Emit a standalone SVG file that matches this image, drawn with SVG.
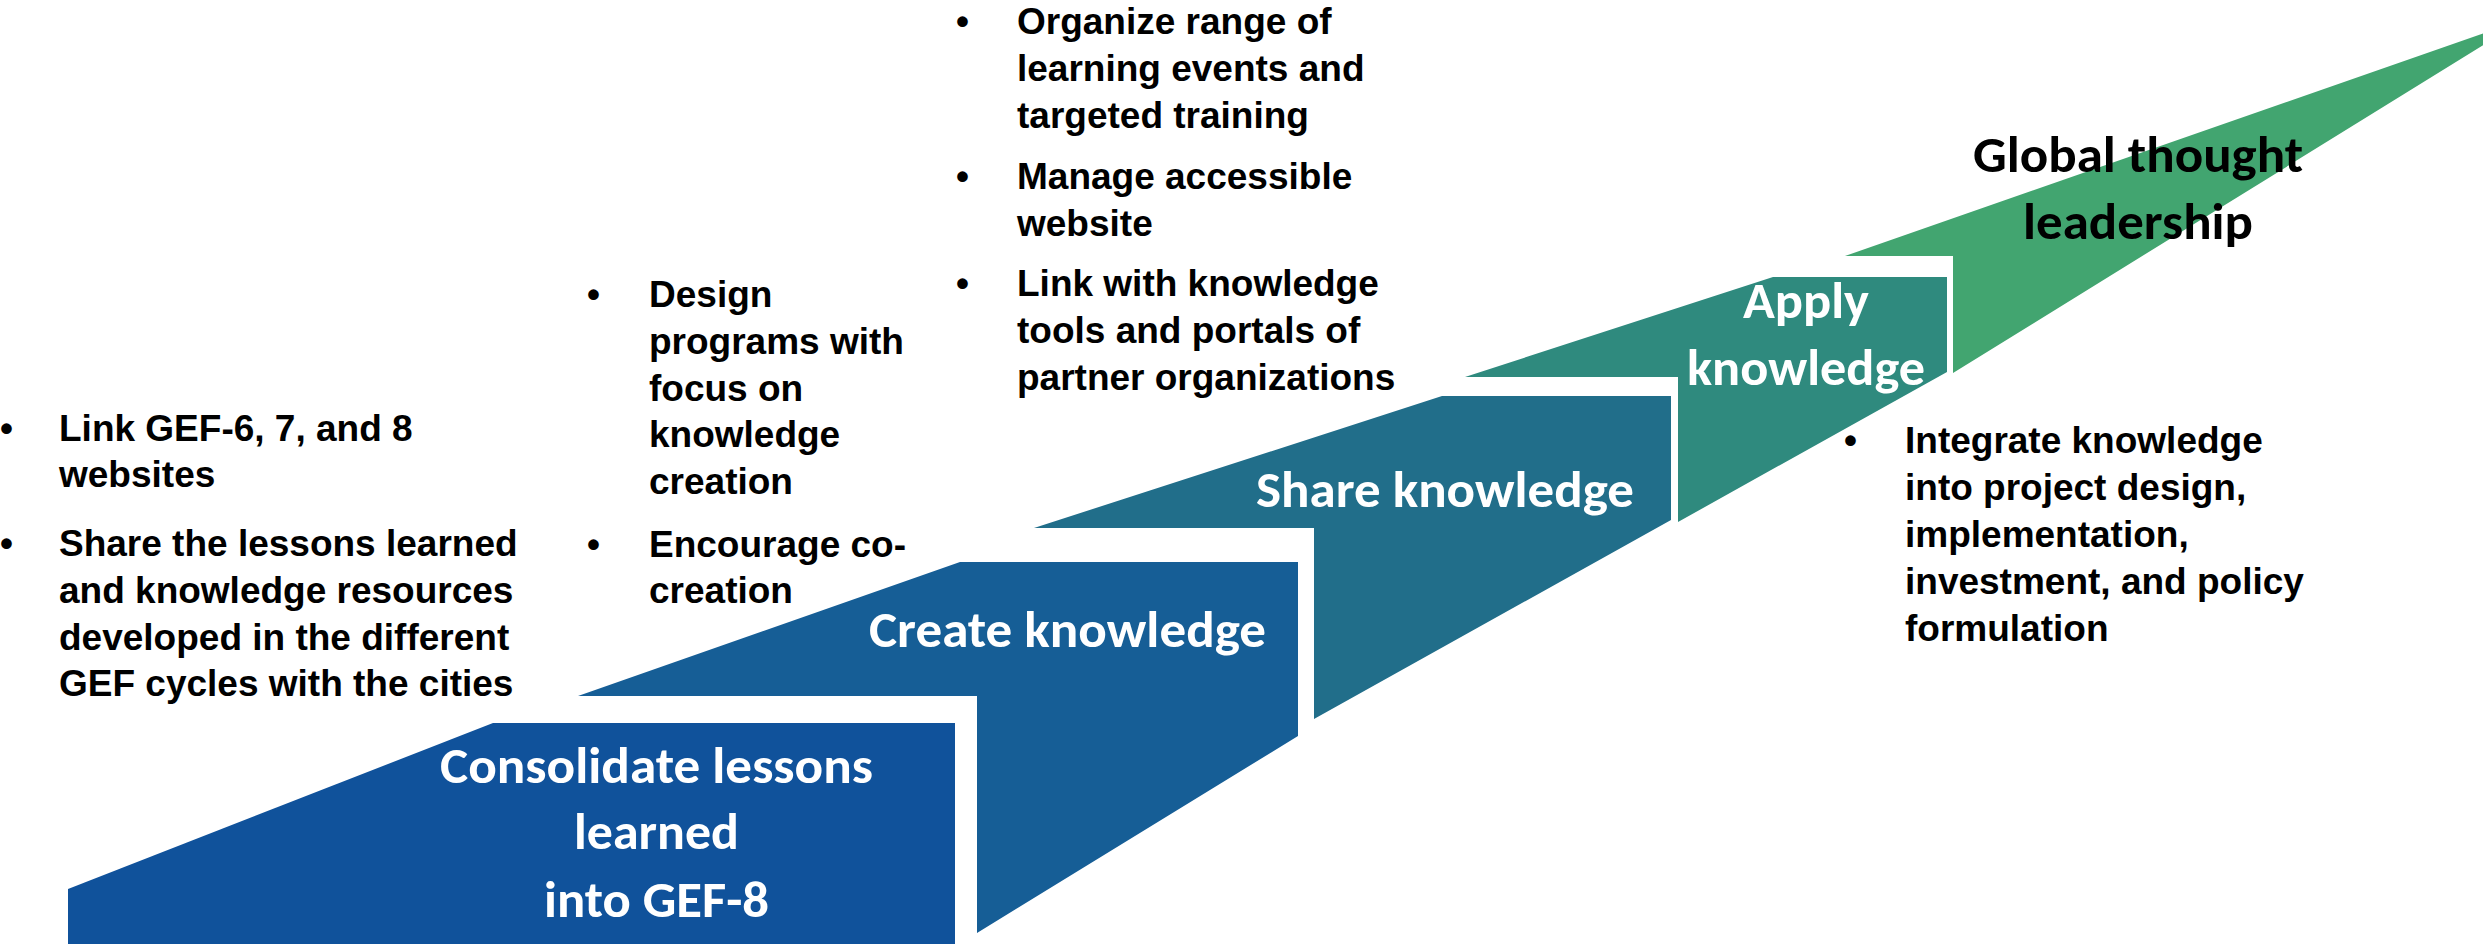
<svg xmlns="http://www.w3.org/2000/svg" width="2483" height="944" viewBox="0 0 2483 944">
<style>
.lbl{font-family:Carlito,Calibri,Lato,"Open Sans",sans-serif;font-weight:bold;font-size:50px;fill:#ffffff}
.dark{fill:#000000}
.bt{font-family:"Liberation Sans",Arial,sans-serif;font-weight:bold;font-size:37px;fill:#000000}
</style>
<rect width="2483" height="944" fill="#ffffff"/>
<g id="step-consolidate">
<polygon points="68,944 68,889 493,723 955,723 955,944" fill="#10529B"/>
<text class="lbl" x="440" y="783" textLength="433" lengthAdjust="spacingAndGlyphs">Consolidate lessons</text>
<text class="lbl" x="574" y="849" textLength="165" lengthAdjust="spacingAndGlyphs">learned</text>
<text class="lbl" x="544" y="917" textLength="225" lengthAdjust="spacingAndGlyphs">into GEF-8</text>
</g>
<g id="step-create">
<polygon points="578,696 960,562 1298,562 1298,736 977,933 977,696" fill="#165E96"/>
<text class="lbl" x="869" y="647" textLength="397" lengthAdjust="spacingAndGlyphs">Create knowledge</text>
</g>
<g id="step-share">
<polygon points="1034,528 1442,396 1671,396 1671,520 1314,719 1314,528" fill="#216E8A"/>
<text class="lbl" x="1256" y="507" textLength="378" lengthAdjust="spacingAndGlyphs">Share knowledge</text>
</g>
<g id="step-apply">
<polygon points="1465,377 1773,277 1947,277 1947,372 1678,522 1678,377" fill="#2F8A7E"/>
<text class="lbl" x="1743" y="318" textLength="126" lengthAdjust="spacingAndGlyphs">Apply</text>
<text class="lbl" x="1687" y="385" textLength="238" lengthAdjust="spacingAndGlyphs">knowledge</text>
</g>
<g id="step-global">
<polygon points="1845,256 2490,31 2490,41 1953,373 1953,256" fill="#42A570"/>
<text class="lbl dark" x="1973" y="172" textLength="330" lengthAdjust="spacingAndGlyphs">Global thought</text>
<text class="lbl dark" x="2023" y="239" textLength="230" lengthAdjust="spacingAndGlyphs">leadership</text>
</g>
<g id="connectors"></g>
<g id="notes-consolidate" class="bt">
<text class="bt" x="0" y="441">•</text>
<text class="bt" x="59" y="441">Link GEF-6, 7, and 8</text>
<text class="bt" x="59" y="487">websites</text>
<text class="bt" x="0" y="556">•</text>
<text class="bt" x="59" y="556">Share the lessons learned</text>
<text class="bt" x="59" y="603">and knowledge resources</text>
<text class="bt" x="59" y="650">developed in the different</text>
<text class="bt" x="59" y="696">GEF cycles with the cities</text>
</g>
<g id="notes-create">
<text class="bt" x="587" y="307">•</text>
<text class="bt" x="649" y="307">Design</text>
<text class="bt" x="649" y="354">programs with</text>
<text class="bt" x="649" y="401">focus on</text>
<text class="bt" x="649" y="447">knowledge</text>
<text class="bt" x="649" y="494">creation</text>
<text class="bt" x="587" y="557">•</text>
<text class="bt" x="649" y="557">Encourage co-</text>
<text class="bt" x="649" y="603">creation</text>
</g>
<g id="notes-share">
<text class="bt" x="956" y="34">•</text>
<text class="bt" x="1017" y="34">Organize range of</text>
<text class="bt" x="1017" y="81">learning events and</text>
<text class="bt" x="1017" y="128">targeted training</text>
<text class="bt" x="956" y="189">•</text>
<text class="bt" x="1017" y="189">Manage accessible</text>
<text class="bt" x="1017" y="236">website</text>
<text class="bt" x="956" y="296">•</text>
<text class="bt" x="1017" y="296">Link with knowledge</text>
<text class="bt" x="1017" y="343">tools and portals of</text>
<text class="bt" x="1017" y="390">partner organizations</text>
</g>
<g id="notes-apply">
<text class="bt" x="1844" y="453">•</text>
<text class="bt" x="1905" y="453">Integrate knowledge</text>
<text class="bt" x="1905" y="500">into project design,</text>
<text class="bt" x="1905" y="547">implementation,</text>
<text class="bt" x="1905" y="594">investment, and policy</text>
<text class="bt" x="1905" y="641">formulation</text>
</g>
</svg>
